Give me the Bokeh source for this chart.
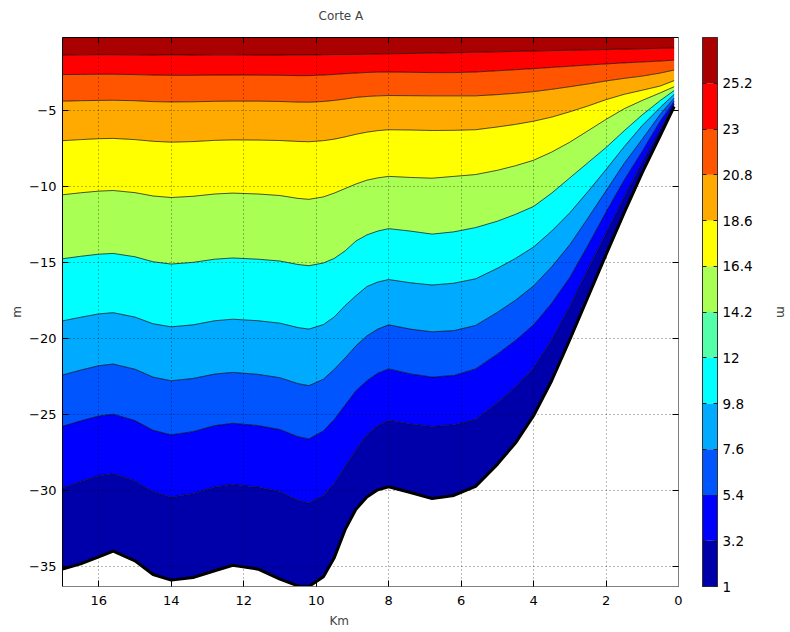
import math
from bokeh.plotting import figure
from bokeh.models import Range1d, FixedTicker, LinearAxis, Title
from bokeh.layouts import row
from bokeh.embed import file_html
from bokeh.resources import INLINE

# ---------------- data ----------------
km = [17, 16.5, 16, 15.6, 15, 14.5, 14, 13.4, 12.8, 12.3, 11.6, 11, 10.5, 10.2,
      9.8, 9.5, 9.2, 8.9, 8.6, 8.3, 8.0,
      7.4, 6.8, 6.2, 5.6, 5, 4.5, 4, 3.5, 3, 2.5, 2, 1.5, 1, 0.5, 0.12]

# depth (m) of each contour line, from the surface downwards
iso_1 = [-1.36, -1.35, -1.34, -1.34, -1.35, -1.36, -1.37, -1.36, -1.35, -1.35, -1.36, -1.36, -1.37, -1.37,
         -1.34, -1.33, -1.33, -1.32, -1.31, -1.29, -1.28,
         -1.26, -1.24, -1.21, -1.18, -1.15, -1.12, -1.10, -1.07, -1.05, -1.02, -1.00, -0.97, -0.95, -0.92, -0.90]
iso_2 = [-2.65, -2.64, -2.63, -2.63, -2.65, -2.68, -2.70, -2.70, -2.68, -2.68, -2.69, -2.70, -2.72, -2.72,
         -2.68, -2.64, -2.59, -2.55, -2.51, -2.49, -2.48,
         -2.50, -2.52, -2.52, -2.48, -2.40, -2.33, -2.26, -2.18, -2.10, -2.02, -1.95, -1.88, -1.82, -1.76, -1.70]
iso_3 = [-4.40, -4.37, -4.35, -4.34, -4.37, -4.43, -4.45, -4.44, -4.41, -4.40, -4.40, -4.42, -4.46, -4.47,
         -4.42, -4.35, -4.26, -4.15, -4.09, -4.05, -4.03,
         -4.04, -4.05, -4.05, -4.05, -3.97, -3.88, -3.77, -3.62, -3.45, -3.27, -3.07, -2.90, -2.75, -2.55, -2.35]
iso_4 = [-7.00, -6.93, -6.87, -6.85, -6.93, -7.04, -7.10, -7.06, -6.98, -6.95, -6.96, -6.99, -7.05, -7.07,
         -7.00, -6.90, -6.75, -6.58, -6.44, -6.34, -6.28,
         -6.30, -6.33, -6.32, -6.28, -6.10, -5.93, -5.72, -5.45, -5.10, -4.72, -4.30, -3.95, -3.68, -3.40, -3.05]
iso_5 = [-10.56, -10.43, -10.32, -10.28, -10.42, -10.64, -10.74, -10.66, -10.51, -10.45, -10.51, -10.61, -10.80, -10.86,
         -10.70, -10.45, -10.15, -9.85, -9.60, -9.45, -9.35,
         -9.42, -9.47, -9.35, -9.23, -8.95, -8.65, -8.29, -7.75, -7.10, -6.35, -5.60, -4.90, -4.35, -3.85, -3.45]
iso_6 = [-14.77, -14.61, -14.47, -14.42, -14.64, -14.97, -15.12, -15.01, -14.80, -14.72, -14.80, -14.92, -15.15, -15.23,
         -15.05, -14.75, -14.25, -13.60, -13.20, -12.95, -12.79,
         -12.95, -13.15, -13.00, -12.72, -12.30, -11.85, -11.33, -10.45, -9.45, -8.45, -7.45, -6.35, -5.30, -4.35, -3.70]
iso_7 = [-18.86, -18.62, -18.40, -18.32, -18.61, -19.05, -19.25, -19.12, -18.85, -18.75, -18.85, -19.01, -19.30, -19.40,
         -19.10, -18.60, -17.85, -17.20, -16.60, -16.30, -16.14,
         -16.35, -16.50, -16.38, -16.09, -15.40, -14.75, -14.00, -12.95, -11.75, -10.35, -8.90, -7.40, -6.00, -4.80, -3.95]
iso_8 = [-22.42, -22.10, -21.81, -21.70, -22.04, -22.56, -22.80, -22.65, -22.36, -22.25, -22.38, -22.60, -22.99, -23.12,
         -22.70, -22.05, -21.30, -20.50, -19.85, -19.40, -19.12,
         -19.40, -19.58, -19.50, -19.16, -18.30, -17.50, -16.56, -15.30, -13.85, -12.10, -10.30, -8.50, -6.90, -5.25, -4.20]
iso_9 = [-25.80, -25.44, -25.12, -25.00, -25.42, -26.06, -26.36, -26.15, -25.75, -25.60, -25.75, -26.01, -26.48, -26.63,
         -26.10, -25.35, -24.40, -23.45, -22.80, -22.30, -22.02,
         -22.35, -22.56, -22.45, -22.02, -21.05, -20.15, -19.12, -17.70, -16.00, -13.90, -11.70, -9.60, -7.70, -5.70, -4.40]
iso_10 = [-29.85, -29.43, -29.06, -28.92, -29.39, -30.11, -30.45, -30.23, -29.79, -29.62, -29.80, -30.11, -30.67, -30.85,
          -30.35, -29.55, -28.45, -27.35, -26.35, -25.75, -25.40,
          -25.65, -25.81, -25.70, -25.35, -24.25, -23.20, -21.95, -20.10, -17.90, -15.45, -13.10, -10.70, -8.40, -6.20, -4.60]
seabed = [-35.20, -34.85, -34.39, -34.01, -34.65, -35.55, -35.92, -35.75, -35.30, -34.95, -35.20, -35.85, -36.30, -36.34,
          -35.70, -34.45, -32.60, -31.25, -30.45, -29.98, -29.78,
          -30.15, -30.55, -30.35, -29.75, -28.30, -26.90, -25.10, -22.80, -20.10, -17.30, -14.50, -11.75, -9.10, -6.65, -4.75]

surface = -0.21
y_bottom = -36.34

x_ticks = [0, 2, 4, 6, 8, 10, 12, 14, 16]
y_ticks = [-35, -30, -25, -20, -15, -10, -5]

cbar_levels = [1, 3.2, 5.4, 7.6, 9.8, 12, 14.2, 16.4, 18.6, 20.8, 23, 25.2, 27.4]
cbar_labels = ["1", "3.2", "5.4", "7.6", "9.8", "12", "14.2", "16.4", "18.6", "20.8", "23", "25.2"]
jet12 = ["#0000AA", "#0000FF", "#0055FF", "#00AAFF", "#00FFFF", "#55FFAA",
         "#AAFF55", "#FFFF00", "#FFAA00", "#FF5500", "#FF0000", "#AA0000"]
# colour (index into jet12) of each band in the section, from the surface down
band_color_idx = [11, 10, 9, 8, 7, 6, 4, 3, 2, 1, 0]

FONT = "DejaVu Sans"
TICK_FS = "13px"
CB_TICK_FS = "13.5px"
LAB_FS = "12px"


def has(model, name):
    return name in model.properties()


def tick_only_axis(ticks, line_color, tick_len):
    return LinearAxis(ticker=FixedTicker(ticks=ticks), major_label_text_font_size="1px",
                      major_label_text_color=None, major_label_standoff=0,
                      major_tick_in=tick_len, major_tick_out=0, minor_tick_line_color=None,
                      axis_line_color=line_color, major_tick_line_color="black")


# ---------------- main section plot ----------------
p = figure(width=688, height=632,
           x_range=Range1d(17, 0), y_range=Range1d(y_bottom, surface),
           output_backend="svg", toolbar_location=None,
           min_border_left=62, min_border_right=10, min_border_top=37, min_border_bottom=44)
p.outline_line_color = None
p.background_fill_color = "white"
p.border_fill_color = "white"

bounds = [iso_1, iso_2, iso_3, iso_4, iso_5, iso_6, iso_7, iso_8, iso_9, iso_10, seabed]
colors = [jet12[i] for i in band_color_idx]

p.varea(x=km, y1=iso_1, y2=surface, fill_color=colors[0])
for k in range(1, len(bounds)):
    p.varea(x=km, y1=bounds[k], y2=bounds[k - 1], fill_color=colors[k])
for b in bounds[:-1]:
    p.line(km, b, line_color="black", line_width=0.8, line_alpha=0.85)
p.line(km, seabed, line_color="black", line_width=3)

# axes
xb = p.xaxis[0]
yl = p.yaxis[0]
for ax, ticks in ((xb, x_ticks), (yl, y_ticks)):
    ax.ticker = FixedTicker(ticks=ticks)
    ax.major_tick_in = 6
    ax.major_tick_out = 0
    ax.minor_tick_line_color = None
    ax.major_tick_line_color = "black"
    ax.major_label_text_font = FONT
    ax.major_label_text_font_size = TICK_FS
    ax.major_label_text_color = "black"
xb.axis_line_color = "#808080"
xb.major_label_standoff = 9
yl.axis_line_color = "black"
yl.major_label_standoff = 6
yl.axis_label = "m"
yl.axis_label_text_font = FONT
yl.axis_label_text_font_size = LAB_FS
yl.axis_label_text_font_style = "normal"
yl.axis_label_standoff = 2

p.add_layout(tick_only_axis(x_ticks, "black", 6), "above")
p.add_layout(tick_only_axis(y_ticks, "#808080", 6), "right")

# grid (dotted, on top of the fill)
for g in (p.xgrid[0], p.ygrid[0]):
    g.grid_line_color = "black"
    g.grid_line_alpha = 0.55
    g.grid_line_dash = "1 3"
    g.grid_line_width = 1
    g.level = "overlay"

# title (a trailing empty line lifts the text towards the top edge)
p.title.text = "Corte A\n"
p.title.align = "left"
p.title.offset = 256
p.title.vertical_align = "bottom"
p.title.text_font = FONT
p.title.text_font_size = LAB_FS
p.title.text_font_style = "normal"
if has(p.title, "standoff"):
    p.title.standoff = 2

km_label = Title(text="Km", align="left", offset=267, text_font=FONT,
                 text_font_size=LAB_FS, text_font_style="normal")
if has(km_label, "standoff"):
    km_label.standoff = 9
p.add_layout(km_label, "below")

# ---------------- colour bar ----------------
cb = figure(width=102, height=632,
            x_range=Range1d(0, 1), y_range=Range1d(cbar_levels[0], cbar_levels[-1]),
            output_backend="svg", toolbar_location=None,
            x_axis_location=None, y_axis_location="right",
            min_border_left=14, min_border_right=57, min_border_top=37, min_border_bottom=43)
cb.quad(left=0, right=1, bottom=cbar_levels[:-1], top=cbar_levels[1:],
        fill_color=jet12, line_color=None)
cb.grid.visible = False
cb.outline_line_color = "#333333"
cb.background_fill_color = "white"
cb.border_fill_color = "white"

ya = cb.yaxis[0]
ya.ticker = FixedTicker(ticks=cbar_levels[:-1])
ya.major_label_overrides = {v: s for v, s in zip(cbar_levels[:-1], cbar_labels)}
ya.major_tick_in = 4
ya.major_tick_out = 0
ya.minor_tick_line_color = None
ya.axis_line_color = "#333333"
ya.major_tick_line_color = "#222222"
ya.major_label_standoff = 5
ya.major_label_text_font = FONT
ya.major_label_text_font_size = CB_TICK_FS
ya.major_label_text_color = "black"
ya.axis_label = "m"
ya.axis_label_text_font = FONT
ya.axis_label_text_font_size = LAB_FS
ya.axis_label_text_font_style = "normal"
ya.axis_label_standoff = 18

cb_left = tick_only_axis(cbar_levels[:-1], "#333333", 4)
cb_left.major_tick_line_color = "#222222"
cb.add_layout(cb_left, "left")

layout = row(p, cb)
open("out.html", "w").write(file_html(layout, INLINE))
